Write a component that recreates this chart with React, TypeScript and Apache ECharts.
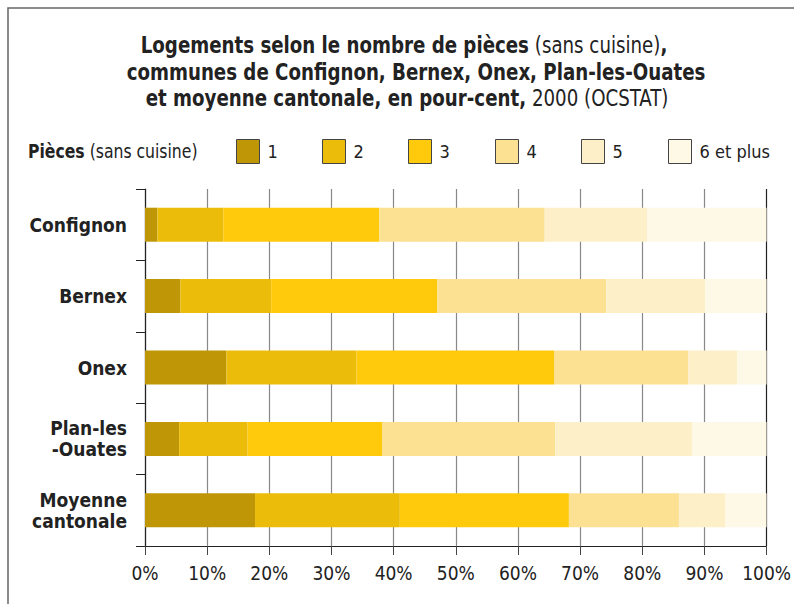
import React, { useEffect, useRef } from "react";
import * as echarts from "echarts";

const categories = ["Confignon", "Bernex", "Onex", "Plan-les\n-Ouates", "Moyenne\ncantonale"];
const seriesNames = ["1", "2", "3", "4", "5", "6 et plus"];
const p1 = [2.0, 5.7, 13.1, 5.5, 17.7];
const p2 = [10.6, 14.6, 20.9, 11.0, 23.3];
const p3 = [25.1, 26.7, 31.8, 21.7, 27.2];
const p4 = [26.6, 27.2, 21.6, 27.8, 17.7];
const p5 = [16.5, 15.9, 7.9, 22.0, 7.5];
const p6 = [19.2, 9.9, 4.7, 12.0, 6.6];
const seriesValues = [p1, p2, p3, p4, p5, p6];
const colors = ["#BF9606", "#ECBC0B", "#FECA0B", "#FDE192", "#FDF0C8", "#FEF8E6"];
const legendLefts = [236, 322, 408, 495, 581, 668];

const FONT = '"DejaVu Sans Condensed", "Liberation Sans Narrow", sans-serif';

export default function App() {
  const ref = useRef<HTMLDivElement>(null);
  useEffect(() => {
    if (!ref.current) return;
    const chart = echarts.init(ref.current, null, { renderer: "svg" });
    const rich = {
      b: { fontFamily: FONT, fontWeight: "bold", fontSize: 23, color: "#222" },
      n: { fontFamily: FONT, fontWeight: "normal", fontSize: 23, color: "#222" },
    };
    const titleLines = [
      "{b|Logements selon le nombre de pièces} {n|(sans cuisine)}{b|,}",
      "{b|communes de Confignon, Bernex, Onex, Plan-les-Ouates}",
      "{b|et moyenne cantonale, en pour-cent,} {n|2000 (OCSTAT)}",
    ];
    const titleY = [45, 72, 98];
    const titleX = [404, 416, 407];
    chart.setOption({
      animation: false,
      textStyle: { fontFamily: FONT },
      grid: { left: 145, right: 27, top: 189, bottom: 58 },
      legend: seriesNames.map((n, i) => ({
        data: [n],
        left: legendLefts[i],
        top: 139,
        padding: 0,
        icon: "rect",
        itemWidth: 23,
        itemHeight: 24,
        itemGap: 0,
        textStyle: { fontFamily: FONT, fontSize: 18, color: "#222", padding: [0, 0, 0, 3] },
        itemStyle: { borderColor: "#444", borderWidth: 1 },
        selectedMode: false,
      })),
      xAxis: {
        type: "value",
        min: 0,
        max: 100,
        interval: 10,
        axisLine: { show: true, lineStyle: { color: "#222", width: 1 } },
        axisTick: { show: true, length: 9, lineStyle: { color: "#444" } },
        axisLabel: { formatter: "{value}%", fontFamily: FONT, fontSize: 19, color: "#222", margin: 17 },
        splitLine: {
          show: true,
          lineStyle: {
            color: ["#888", "#888", "#888", "#888", "#888", "#888", "#888", "#888", "#888", "#888", "#222"],
            width: 1.2,
          },
        },
      },
      yAxis: {
        type: "category",
        inverse: true,
        data: categories,
        axisLine: { show: true, lineStyle: { color: "#222", width: 1.2 } },
        axisTick: { show: true, length: 9, alignWithLabel: false, lineStyle: { color: "#222" } },
        axisLabel: {
          fontFamily: FONT,
          fontWeight: "bold",
          fontSize: 19,
          lineHeight: 21,
          color: "#222",
          margin: 18,
          align: "right",
        },
      },
      series: seriesValues.map((vals, i) => ({
        name: seriesNames[i],
        type: "bar",
        stack: "total",
        barWidth: 34,
        data: vals,
        itemStyle: { color: colors[i] },
      })),
      graphic: [
        {
          type: "rect",
          shape: { x: 8, y: 8, width: 820, height: 620 },
          style: { fill: "none", stroke: "#666", lineWidth: 1.5 },
          silent: true,
        },
        ...titleLines.map((t, i) => ({
          type: "text",
          x: titleX[i],
          y: titleY[i],
          scaleX: 0.88,
          style: {
            text: t,
            rich,
            textAlign: "center",
            textVerticalAlign: "middle",
            fontFamily: FONT,
            fontSize: 23,
            fill: "#222",
          },
        })),
        {
          type: "text",
          x: 28,
          y: 151,
          scaleX: 0.87,
          style: {
            text: "{b|Pièces} {n|(sans cuisine)}",
            rich: {
              b: { fontFamily: FONT, fontWeight: "bold", fontSize: 20, color: "#222" },
              n: { fontFamily: FONT, fontWeight: "normal", fontSize: 20, color: "#222" },
            },
            textAlign: "left",
            textVerticalAlign: "middle",
            fontFamily: FONT,
            fontSize: 20,
            fill: "#222",
          },
        },
      ],
    });
    return () => chart.dispose();
  }, []);
  return (
    <div
      ref={ref}
      style={{ position: "fixed", left: 0, top: 0, width: 794, height: 604, background: "#fff" }}
    />
  );
}
